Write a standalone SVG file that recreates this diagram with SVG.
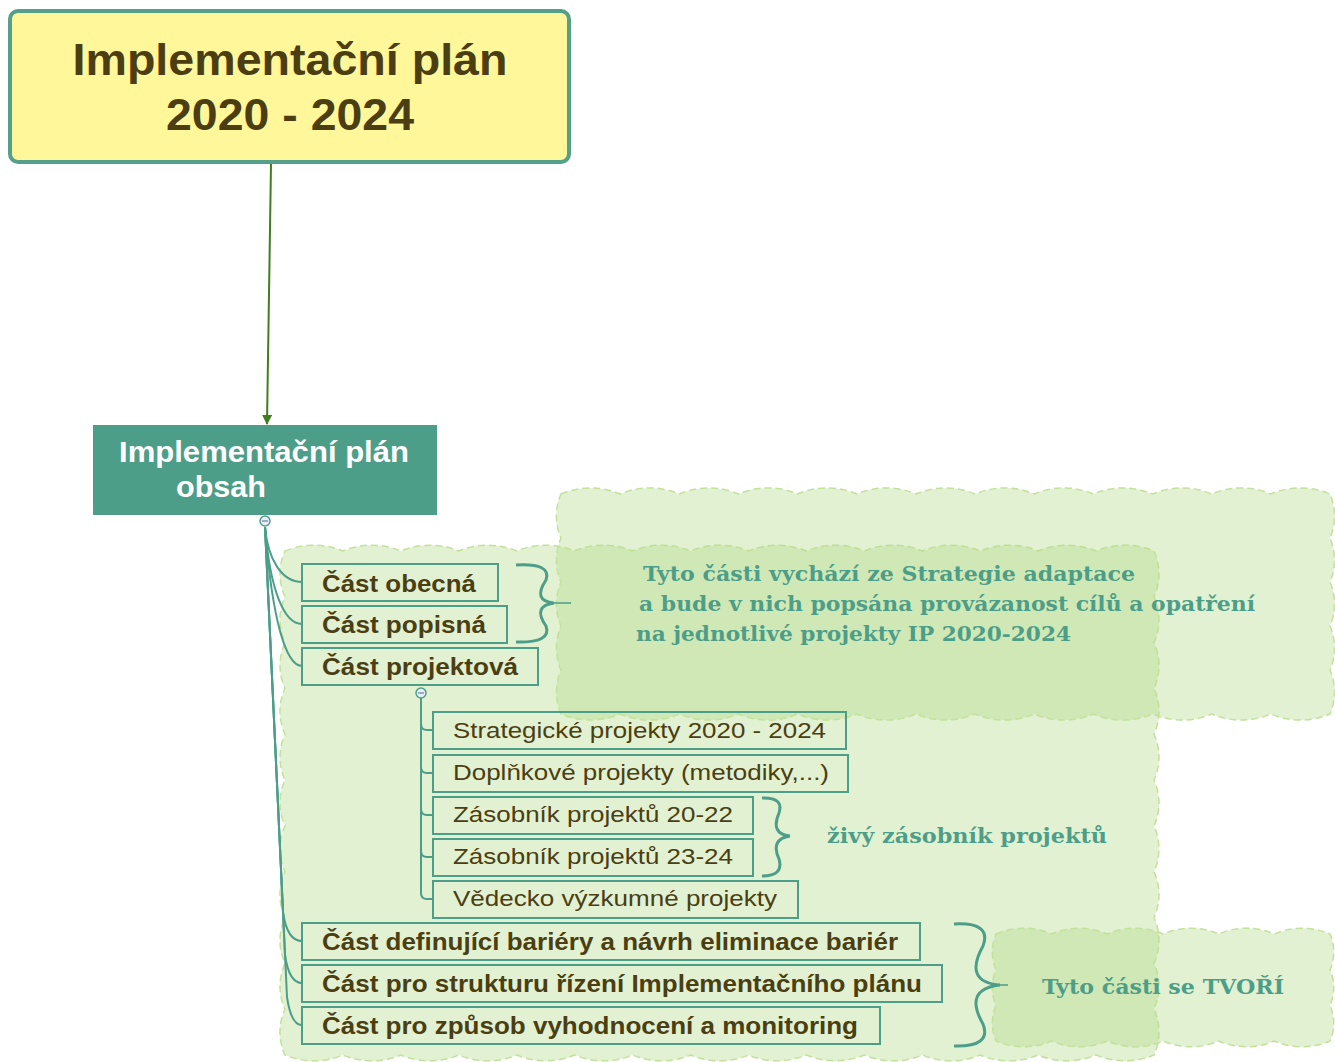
<svg xmlns="http://www.w3.org/2000/svg" width="1335" height="1062" viewBox="0 0 1335 1062">
<style>
.cloud{fill:#b6dc8c;fill-opacity:0.4;stroke:#c2e19c;stroke-width:1.5;stroke-dasharray:7 4}
.box{fill:none;stroke:#4d9e89;stroke-width:2}
.t1{font-family:"Liberation Sans",Arial,sans-serif;font-weight:bold;font-size:23px;fill:#4b3e12}
.t2{font-family:"Liberation Sans",Arial,sans-serif;font-size:22px;fill:#4b3e12}
.note{font-family:"DejaVu Serif","Liberation Serif",serif;font-weight:bold;font-size:21px;fill:#4d9e89}
.conn{fill:none;stroke:#4d9e89;stroke-width:2}
.brace{fill:none;stroke:#4d9e89;stroke-width:3}
</style>
<defs>
<marker id="arr" viewBox="0 0 10 10" refX="9" refY="5" markerWidth="10" markerHeight="10" orient="auto" markerUnits="userSpaceOnUse">
<path d="M0 0 L10 5 L0 10 z" fill="#3f7f1c"/>
</marker>
</defs>

<g id="clouds">
<path class="cloud" d="M285 551 a75 75 0 0 1 57.93 0 a75 75 0 0 1 57.93 0 a75 75 0 0 1 57.93 0 a75 75 0 0 1 57.93 0 a75 75 0 0 1 57.93 0 a75 75 0 0 1 57.93 0 a75 75 0 0 1 57.93 0 a75 75 0 0 1 57.93 0 a75 75 0 0 1 57.93 0 a75 75 0 0 1 57.93 0 a75 75 0 0 1 57.93 0 a75 75 0 0 1 57.93 0 a75 75 0 0 1 57.93 0 a75 75 0 0 1 57.93 0 a75 75 0 0 1 57.93 0 a55 55 0 0 1 0 45.82 a55 55 0 0 1 0 45.82 a55 55 0 0 1 0 45.82 a55 55 0 0 1 0 45.82 a55 55 0 0 1 0 45.82 a55 55 0 0 1 0 45.82 a55 55 0 0 1 0 45.82 a55 55 0 0 1 0 45.82 a55 55 0 0 1 0 45.82 a55 55 0 0 1 0 45.82 a55 55 0 0 1 0 45.82 a75 75 0 0 1 -57.93 0 a75 75 0 0 1 -57.93 0 a75 75 0 0 1 -57.93 0 a75 75 0 0 1 -57.93 0 a75 75 0 0 1 -57.93 0 a75 75 0 0 1 -57.93 0 a75 75 0 0 1 -57.93 0 a75 75 0 0 1 -57.93 0 a75 75 0 0 1 -57.93 0 a75 75 0 0 1 -57.93 0 a75 75 0 0 1 -57.93 0 a75 75 0 0 1 -57.93 0 a75 75 0 0 1 -57.93 0 a75 75 0 0 1 -57.93 0 a75 75 0 0 1 -57.93 0 a55 55 0 0 1 0 -45.82 a55 55 0 0 1 0 -45.82 a55 55 0 0 1 0 -45.82 a55 55 0 0 1 0 -45.82 a55 55 0 0 1 0 -45.82 a55 55 0 0 1 0 -45.82 a55 55 0 0 1 0 -45.82 a55 55 0 0 1 0 -45.82 a55 55 0 0 1 0 -45.82 a55 55 0 0 1 0 -45.82 a55 55 0 0 1 0 -45.82 z"/>
<path class="cloud" d="M561 494 a75 75 0 0 1 59.15 0 a75 75 0 0 1 59.15 0 a75 75 0 0 1 59.15 0 a75 75 0 0 1 59.15 0 a75 75 0 0 1 59.15 0 a75 75 0 0 1 59.15 0 a75 75 0 0 1 59.15 0 a75 75 0 0 1 59.15 0 a75 75 0 0 1 59.15 0 a75 75 0 0 1 59.15 0 a75 75 0 0 1 59.15 0 a75 75 0 0 1 59.15 0 a75 75 0 0 1 59.15 0 a55 55 0 0 1 0 44 a55 55 0 0 1 0 44 a55 55 0 0 1 0 44 a55 55 0 0 1 0 44 a55 55 0 0 1 0 44 a75 75 0 0 1 -59.15 0 a75 75 0 0 1 -59.15 0 a75 75 0 0 1 -59.15 0 a75 75 0 0 1 -59.15 0 a75 75 0 0 1 -59.15 0 a75 75 0 0 1 -59.15 0 a75 75 0 0 1 -59.15 0 a75 75 0 0 1 -59.15 0 a75 75 0 0 1 -59.15 0 a75 75 0 0 1 -59.15 0 a75 75 0 0 1 -59.15 0 a75 75 0 0 1 -59.15 0 a75 75 0 0 1 -59.15 0 a55 55 0 0 1 0 -44 a55 55 0 0 1 0 -44 a55 55 0 0 1 0 -44 a55 55 0 0 1 0 -44 a55 55 0 0 1 0 -44 z"/>
<path class="cloud" d="M996 934 a70 70 0 0 1 55.67 0 a70 70 0 0 1 55.67 0 a70 70 0 0 1 55.67 0 a70 70 0 0 1 55.67 0 a70 70 0 0 1 55.67 0 a70 70 0 0 1 55.67 0 a45 45 0 0 1 0 35.67 a45 45 0 0 1 0 35.67 a45 45 0 0 1 0 35.66 a70 70 0 0 1 -55.67 0 a70 70 0 0 1 -55.67 0 a70 70 0 0 1 -55.67 0 a70 70 0 0 1 -55.67 0 a70 70 0 0 1 -55.67 0 a70 70 0 0 1 -55.67 0 a45 45 0 0 1 0 -35.67 a45 45 0 0 1 0 -35.67 a45 45 0 0 1 0 -35.66 z"/>
</g>

<g id="connectors">
<path d="M271 164 L267 424" fill="none" stroke="#3f7f1c" stroke-width="2" marker-end="url(#arr)"/>
<path class="conn" d="M265 527 C 268 560 282 582 302 582"/>
<path class="conn" d="M265 527 C 270 590 284 624 302 624"/>
<path class="conn" d="M265 527 C 272 620 286 666 302 666"/>
<path class="conn" d="M265 527 L 283 912 Q 287 941 302 941"/>
<path class="conn" d="M265 527 L 285 955 Q 289 983 302 983"/>
<path class="conn" d="M265 527 L 287 997 Q 291 1025 302 1025"/>
<path class="conn" d="M421 698 V 893 Q 421 899 427 899 H 433"/>
<path class="conn" d="M421 724 Q 421 730 427 730 H 433"/>
<path class="conn" d="M421 767 Q 421 773 427 773 H 433"/>
<path class="conn" d="M421 809 Q 421 815 427 815 H 433"/>
<path class="conn" d="M421 851 Q 421 857 427 857 H 433"/>
<path class="brace" d="M516 565 Q 552 563 546 580 Q 532 601 554 603 M 554 603 Q 532 606 546 626 Q 552 643 516 642"/>
<path d="M554 603 H 571" stroke="#4d9e89" stroke-width="1.5" fill="none"/>
<path class="brace" d="M762 798 Q 784 797 779 813 Q 770 834 790 836 M 790 836 Q 770 839 779 859 Q 784 876 762 876"/>
<path class="brace" d="M954 924 Q 992 922 983 946 Q 963 982 1000 985 M 1000 985 Q 963 989 983 1024 Q 992 1047 954 1046"/>
<path d="M1000 985 H 1008" stroke="#4d9e89" stroke-width="1.5" fill="none"/>
</g>

<g id="n-title">
<rect x="10" y="11" width="559" height="151" rx="8" fill="#fff799" stroke="#55a08b" stroke-width="4"/>
<text x="290" y="75" text-anchor="middle" font-family="Liberation Sans,Arial,sans-serif" font-weight="bold" font-size="45" fill="#4b3e12" textLength="435" lengthAdjust="spacingAndGlyphs">Implementační plán</text>
<text x="290" y="130" text-anchor="middle" font-family="Liberation Sans,Arial,sans-serif" font-weight="bold" font-size="45" fill="#4b3e12" textLength="248" lengthAdjust="spacingAndGlyphs">2020 - 2024</text>
</g>

<g id="n-obsah">
<rect x="93" y="425" width="344" height="90" fill="#4d9e89"/>
<text x="119" y="462" font-family="Liberation Sans,Arial,sans-serif" font-weight="bold" font-size="29" fill="#ffffff" textLength="290" lengthAdjust="spacingAndGlyphs">Implementační plán</text>
<text x="176" y="497" font-family="Liberation Sans,Arial,sans-serif" font-weight="bold" font-size="29" fill="#ffffff" textLength="90" lengthAdjust="spacingAndGlyphs">obsah</text>
<circle cx="265" cy="521" r="5" fill="#e8eef8" stroke="#4d9e89" stroke-width="1.5"/>
<path d="M262 521 H 268" stroke="#6a7fa8" stroke-width="1.2"/>
</g>

<g id="n-obecna">
<rect class="box" x="302" y="564" width="196" height="37"/>
<text class="t1" x="322" y="592" textLength="154" lengthAdjust="spacingAndGlyphs">Část obecná</text>
</g>
<g id="n-popisna">
<rect class="box" x="302" y="606" width="205" height="37"/>
<text class="t1" x="322" y="633" textLength="164" lengthAdjust="spacingAndGlyphs">Část popisná</text>
</g>
<g id="n-projektova">
<rect class="box" x="302" y="648" width="236" height="37"/>
<text class="t1" x="322" y="675" textLength="196" lengthAdjust="spacingAndGlyphs">Část projektová</text>
<circle cx="421" cy="693" r="5" fill="#e8eef8" stroke="#4d9e89" stroke-width="1.5"/>
<path d="M418 693 H 424" stroke="#6a7fa8" stroke-width="1.2"/>
</g>

<g id="n-strategicke">
<rect class="box" x="433" y="712" width="413" height="37"/>
<text class="t2" x="453" y="738" textLength="373" lengthAdjust="spacingAndGlyphs">Strategické projekty 2020 - 2024</text>
</g>
<g id="n-doplnkove">
<rect class="box" x="433" y="755" width="415" height="37"/>
<text class="t2" x="453" y="780" textLength="376" lengthAdjust="spacingAndGlyphs">Doplňkové projekty (metodiky,...)</text>
</g>
<g id="n-zas2022">
<rect class="box" x="433" y="797" width="320" height="37"/>
<text class="t2" x="453" y="822" textLength="280" lengthAdjust="spacingAndGlyphs">Zásobník projektů 20-22</text>
</g>
<g id="n-zas2324">
<rect class="box" x="433" y="839" width="320" height="37"/>
<text class="t2" x="453" y="864" textLength="280" lengthAdjust="spacingAndGlyphs">Zásobník projektů 23-24</text>
</g>
<g id="n-vedecko">
<rect class="box" x="433" y="881" width="365" height="37"/>
<text class="t2" x="453" y="906" textLength="324" lengthAdjust="spacingAndGlyphs">Vědecko výzkumné projekty</text>
</g>

<g id="n-bariery">
<rect class="box" x="302" y="923" width="618" height="37"/>
<text class="t1" x="322" y="950" textLength="576" lengthAdjust="spacingAndGlyphs">Část definující bariéry a návrh eliminace bariér</text>
</g>
<g id="n-struktura">
<rect class="box" x="302" y="965" width="640" height="37"/>
<text class="t1" x="322" y="992" textLength="600" lengthAdjust="spacingAndGlyphs">Část pro strukturu řízení Implementačního plánu</text>
</g>
<g id="n-monitoring">
<rect class="box" x="302" y="1007" width="578" height="37"/>
<text class="t1" x="322" y="1034" textLength="536" lengthAdjust="spacingAndGlyphs">Část pro způsob vyhodnocení a monitoring</text>
</g>

<g id="n-note1">
<text class="note" x="643" y="581" textLength="492" lengthAdjust="spacingAndGlyphs">Tyto části vychází ze Strategie adaptace</text>
<text class="note" x="639" y="611" textLength="616" lengthAdjust="spacingAndGlyphs">a bude v nich popsána provázanost cílů a opatření</text>
<text class="note" x="636" y="641" textLength="435" lengthAdjust="spacingAndGlyphs">na jednotlivé projekty IP 2020-2024</text>
</g>
<g id="n-note2">
<text class="note" x="827" y="843" textLength="280" lengthAdjust="spacingAndGlyphs">živý zásobník projektů</text>
</g>
<g id="n-note3">
<text class="note" x="1042" y="994" textLength="242" lengthAdjust="spacingAndGlyphs">Tyto části se TVOŘÍ</text>
</g>
</svg>
